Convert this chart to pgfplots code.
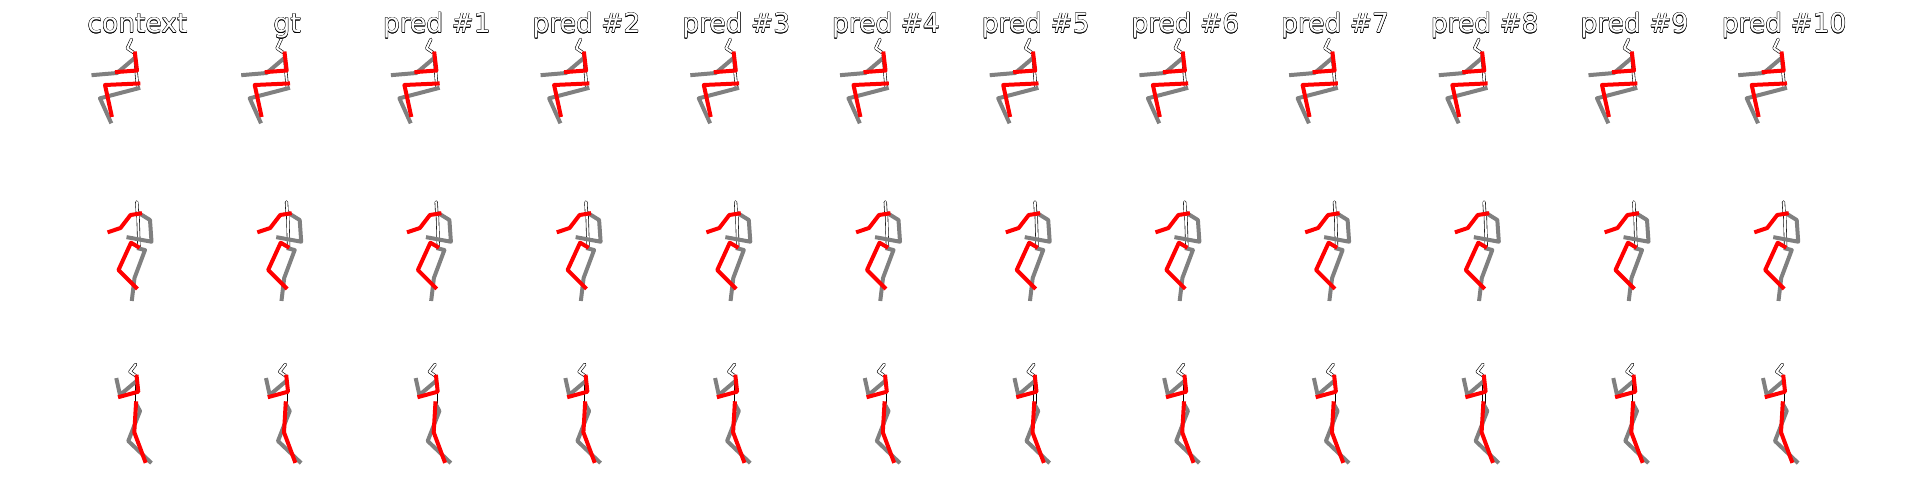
\documentclass[border=0pt]{standalone}
\usepackage{pgfplots}
\pgfplotsset{compat=1.18}
\usepackage{pgfplotstable}
\usepackage{fontspec}
\setmainfont{DejaVu Sans}

\definecolor{limbgray}{RGB}{128,128,128}
\definecolor{limbred}{RGB}{255,0,0}

% poses in pixel units of the first column (y counted from the top)
% --- top row ---
\pgfplotstableread{
x y
131.5 39.3
127.3 48.3
133.5 52.5
}\rAhead
\pgfplotstableread{
x y
134.8 55.0
137.5 86.5
}\rAspine
\pgfplotstableread{
x y
133.5 59.0
117.0 73.0
93.5 75.0
}\rAgarm
\pgfplotstableread{
x y
135.0 53.5
137.0 70.5
117.0 72.0
}\rAredarm
\pgfplotstableread{
x y
138.3 88.3
100.0 98.3
110.5 121.5
}\rAgleg
\pgfplotstableread{
x y
138.3 83.5
105.0 85.0
111.5 115.0
}\rAredleg
% --- middle row ---
\pgfplotstableread{
x y
136.8 202.0
137.3 212.0
}\rBhead
\pgfplotstableread{
x y
138.0 214.0
139.0 248.5
}\rBspine
\pgfplotstableread{
x y
139.5 213.5
150.0 220.0
151.5 241.7
128.5 237.5
}\rBgarm
\pgfplotstableread{
x y
140.0 213.5
130.5 215.0
120.5 228.0
109.5 231.7
}\rBredarm
\pgfplotstableread{
x y
139.0 248.5
145.0 250.0
134.5 278.0
132.0 299.0
}\rBgleg
\pgfplotstableread{
x y
137.8 246.7
131.0 242.7
118.5 270.0
136.0 287.5
}\rBredleg
% --- bottom row ---
\pgfplotstableread{
x y
135.7 364.3
130.0 371.7
135.7 375.7
}\rChead
\pgfplotstableread{
x y
136.7 377.0
136.7 405.0
}\rCspine
\pgfplotstableread{
x y
135.7 381.7
120.0 395.0
116.7 380.0
}\rCgarm
\pgfplotstableread{
x y
136.7 376.7
138.3 391.7
120.0 396.7
}\rCredarm
\pgfplotstableread{
x y
136.7 405.0
140.0 411.0
128.3 441.0
150.0 461.7
}\rCgleg
\pgfplotstableread{
x y
136.0 403.3
134.3 432.3
145.0 461.0
}\rCredleg

\pgfplotsset{
  bone/.style={black, line width=3.2pt, line cap=round, line join=round},
  bonein/.style={white, line width=2.0pt, line cap=round, line join=round},
  glimb/.style={limbgray, line width=4pt, line cap=rect, line join=round},
  rlimb/.style={limbred, line width=4pt, line cap=rect, line join=round},
}

\newcommand\drawrow[6]{%
  \addplot[bone] table {#1};
  \addplot[bonein] table {#1};
  \addplot[bone] table {#2};
  \addplot[bonein] table {#2};
  \addplot[glimb] table {#3};
  \addplot[glimb] table {#5};
  \addplot[rlimb] table {#4};
  \addplot[rlimb] table {#6};
}

\newcommand\column[1]{%
  \begin{axis}[at={(#1pt,0pt)}, anchor=south west,
    width=149.7pt, height=480pt, scale only axis,
    xmin=60, xmax=209.7, ymin=0, ymax=480, y dir=reverse,
    hide axis, clip=false]
    \drawrow\rAhead\rAspine\rAgarm\rAredarm\rAgleg\rAredleg
    \drawrow\rBhead\rBspine\rBgarm\rBredarm\rBgleg\rBredleg
    \drawrow\rChead\rCspine\rCgarm\rCredarm\rCgleg\rCredleg
  \end{axis}}

% white titles with a thin black rim
\newcommand\outlined[2]{%
  \foreach \dx/\dy in {0.4/0,-0.4/0,0/0.4,0/-0.4,0.28/0.28,-0.28/0.28,0.28/-0.28,-0.28/-0.28}{
    \node[anchor=base, text=black, font=\fontsize{26.5}{30}\selectfont, inner sep=0pt,
      xshift=\dx pt, yshift=\dy pt] at (#1pt, 447pt) {#2};
  }
  \node[anchor=base, text=white, font=\fontsize{26.5}{30}\selectfont, inner sep=0pt]
    at (#1pt, 447pt) {#2};
}

\begin{document}
\begin{tikzpicture}
\useasboundingbox (0,0) rectangle (1920pt,480pt);
\column{60}
\column{209.7}
\column{359.4}
\column{509.1}
\column{658.8}
\column{808.5}
\column{958.2}
\column{1107.9}
\column{1257.6}
\column{1407.3}
\column{1557.0}
\column{1706.7}
\outlined{137.5}{context}
\outlined{287.2}{gt}
\outlined{436.9}{pred \#1}
\outlined{586.6}{pred \#2}
\outlined{736.3}{pred \#3}
\outlined{886.0}{pred \#4}
\outlined{1035.7}{pred \#5}
\outlined{1185.4}{pred \#6}
\outlined{1335.1}{pred \#7}
\outlined{1484.8}{pred \#8}
\outlined{1634.5}{pred \#9}
\outlined{1784.2}{pred \#10}
\end{tikzpicture}
\end{document}
